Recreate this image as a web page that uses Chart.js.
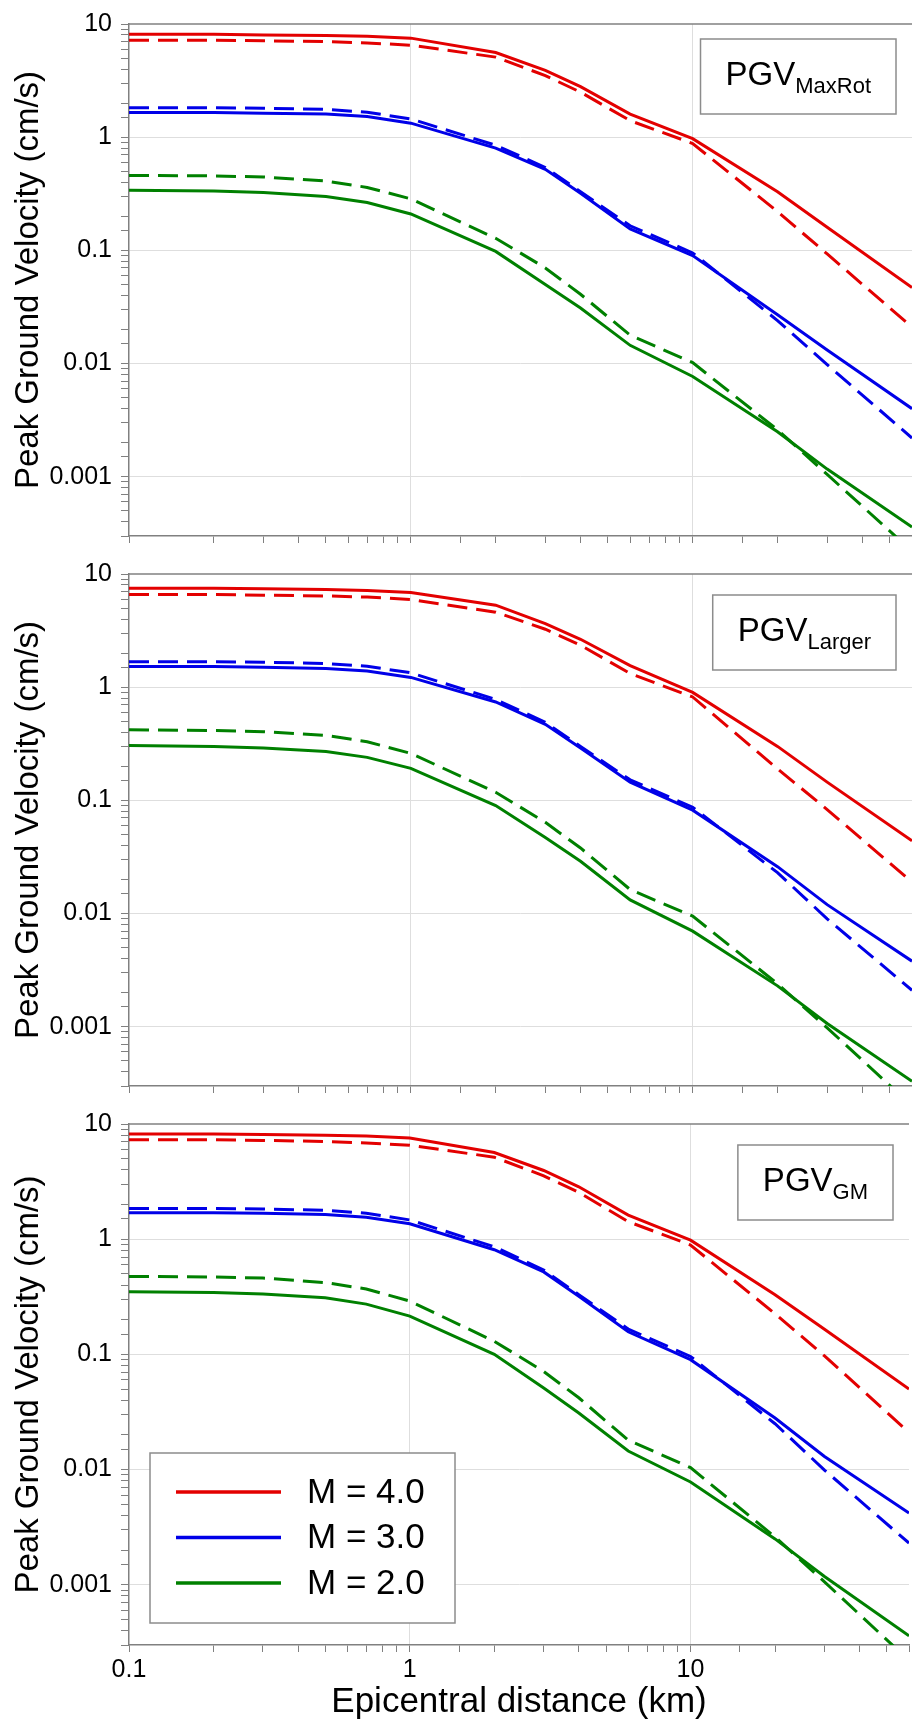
<!DOCTYPE html>
<html>
<head>
<meta charset="utf-8">
<script src="https://cdn.jsdelivr.net/npm/chart.js@4.4.1/dist/chart.umd.min.js"></script>
<style>
  body { margin: 0; background: #fff; }
  #wrap { position: relative; width: 912px; height: 1724px; overflow: hidden; }
  canvas { position: absolute; left: 0; }
</style>
</head>
<body>
<div id="wrap">
  <canvas id="maxRot" width="912" height="560" style="top:0px"></canvas>
  <canvas id="larger" width="912" height="560" style="top:550px"></canvas>
  <canvas id="gm" width="912" height="624" style="top:1100px"></canvas>
</div>
<script>
// epicentral distance (km) where the curves were read
const distanceKm = [0.1, 0.2, 0.3, 0.5, 0.7, 1, 2, 3, 4, 6, 10, 20, 30, 60];
const magnitudes = ['M = 4.0', 'M = 3.0', 'M = 2.0'];
const xTickLabels = ['0.1', '1', '10'];
const yTickLabels = ['10', '1', '0.1', '0.01', '0.001'];

// PGV MaxRot (cm/s)
const maxRotM4 = [8.1, 8.1, 8.0, 7.9, 7.8, 7.5, 5.6, 3.9, 2.8, 1.6, 0.97, 0.33, 0.16, 0.047];
const maxRotM4Dash = [7.2, 7.2, 7.1, 7.0, 6.8, 6.5, 5.1, 3.5, 2.5, 1.4, 0.88, 0.22, 0.093, 0.021];
const maxRotM3 = [1.65, 1.65, 1.63, 1.6, 1.52, 1.33, 0.8, 0.52, 0.32, 0.155, 0.09, 0.027, 0.0132, 0.004];
const maxRotM3Dash = [1.82, 1.82, 1.8, 1.76, 1.66, 1.45, 0.85, 0.54, 0.33, 0.165, 0.095, 0.024, 0.0098, 0.0022];
const maxRotM2 = [0.34, 0.335, 0.325, 0.3, 0.265, 0.21, 0.098, 0.05, 0.031, 0.0145, 0.0077, 0.0025, 0.00117, 0.00036];
const maxRotM2Dash = [0.46, 0.455, 0.445, 0.41, 0.36, 0.285, 0.128, 0.07, 0.041, 0.0178, 0.0102, 0.0026, 0.00105, 0.00022];

// PGV Larger (cm/s)
const largerM4 = [7.5, 7.5, 7.4, 7.3, 7.15, 6.85, 5.3, 3.65, 2.65, 1.55, 0.9, 0.3, 0.145, 0.044];
const largerM4Dash = [6.6, 6.6, 6.5, 6.4, 6.25, 5.95, 4.6, 3.25, 2.35, 1.32, 0.82, 0.19, 0.083, 0.019];
const largerM3 = [1.52, 1.52, 1.5, 1.46, 1.39, 1.22, 0.74, 0.47, 0.29, 0.145, 0.082, 0.026, 0.012, 0.0038];
const largerM3Dash = [1.68, 1.68, 1.66, 1.62, 1.53, 1.34, 0.78, 0.49, 0.3, 0.152, 0.087, 0.023, 0.009, 0.0021];
const largerM2 = [0.305, 0.3, 0.29, 0.27, 0.24, 0.192, 0.09, 0.047, 0.029, 0.0132, 0.007, 0.0023, 0.00107, 0.00033];
const largerM2Dash = [0.42, 0.415, 0.405, 0.375, 0.33, 0.26, 0.118, 0.064, 0.038, 0.0163, 0.0095, 0.0024, 0.00098, 0.0002];

// PGV GM (cm/s)
const gmM4 = [8.2, 8.2, 8.1, 8.0, 7.85, 7.55, 5.65, 3.95, 2.85, 1.62, 0.98, 0.33, 0.165, 0.05];
const gmM4Dash = [7.3, 7.3, 7.2, 7.05, 6.85, 6.55, 5.15, 3.55, 2.55, 1.42, 0.89, 0.225, 0.097, 0.021];
const gmM3 = [1.7, 1.7, 1.68, 1.64, 1.55, 1.36, 0.81, 0.52, 0.32, 0.157, 0.09, 0.028, 0.013, 0.0042];
const gmM3Dash = [1.85, 1.85, 1.83, 1.78, 1.68, 1.47, 0.86, 0.54, 0.33, 0.166, 0.096, 0.025, 0.0099, 0.0023];
const gmM2 = [0.35, 0.345, 0.335, 0.31, 0.273, 0.215, 0.1, 0.051, 0.031, 0.0145, 0.0078, 0.0025, 0.00118, 0.00036];
const gmM2Dash = [0.475, 0.47, 0.46, 0.42, 0.37, 0.29, 0.13, 0.071, 0.042, 0.018, 0.0104, 0.0026, 0.00106, 0.00022];

const lineColors = ['#e30000', '#0000e8', '#008000'];
const FONT = '"Liberation Sans", Arial, sans-serif';

function isDecade(v) {
    const l = Math.log10(v);
    return Math.abs(l - Math.round(l)) < 1e-6;
}

function buildDatasets(solid, dashed) {
    const datasets = [];
    solid.forEach((vals, i) => {
        datasets.push({
            label: magnitudes[i],
            data: distanceKm.map((x, j) => ({ x: x, y: vals[j] })),
            borderColor: lineColors[i],
            borderWidth: 3,
            pointRadius: 0,
            fill: false
        });
        datasets.push({
            label: magnitudes[i] + ' (dashed)',
            data: distanceKm.map((x, j) => ({ x: x, y: dashed[i][j] })),
            borderColor: lineColors[i],
            borderWidth: 3,
            borderDash: [20, 9],
            pointRadius: 0,
            fill: false
        });
    });
    return datasets;
}

function buildScales(showX) {
    return {
        x: {
            type: 'logarithmic',
            min: 0.1,
            max: 60,
            border: { color: '#808080', width: 1.5 },
            grid: {
                color: (c) => (c.tick && isDecade(c.tick.value) && c.tick.value > 0.1) ? '#dedede' : 'rgba(0,0,0,0)',
                tickColor: '#808080',
                tickLength: 7
            },
            ticks: {
                display: showX,
                autoSkip: false,
                maxRotation: 0,
                padding: 3,
                color: '#000',
                font: { family: FONT, size: 25 },
                callback: (v) => xTickLabels.includes(String(v)) ? String(v) : ''
            },
            title: {
                display: showX,
                text: 'Epicentral distance (km)',
                color: '#000',
                font: { family: FONT, size: 35 },
                padding: { top: 0, bottom: 1 }
            },
            afterFit: (s) => { s.height = showX ? 79 : 15; }
        },
        y: {
            type: 'logarithmic',
            min: 0.0003,
            max: 10,
            border: { color: '#808080', width: 1.5 },
            grid: {
                color: (c) => (c.tick && isDecade(c.tick.value) && c.tick.value < 10) ? '#dedede' : 'rgba(0,0,0,0)',
                tickColor: '#808080',
                tickLength: 8
            },
            ticks: {
                autoSkip: false,
                padding: 9,
                color: '#000',
                font: { family: FONT, size: 25 },
                callback: (v) => yTickLabels.includes(String(v)) ? String(v) : ''
            },
            title: {
                display: true,
                text: 'Peak Ground Velocity (cm/s)',
                color: '#000',
                font: { family: FONT, size: 33 },
                padding: { top: 9, bottom: 0 }
            },
            afterFit: (s) => { s.width = 129; }
        }
    };
}

// top edge of the frame
const topFrame = {
    id: 'topFrame',
    afterDatasetsDraw(chart) {
        const { ctx, chartArea } = chart;
        ctx.save();
        ctx.strokeStyle = '#808080';
        ctx.lineWidth = 1.5;
        ctx.beginPath();
        ctx.moveTo(chartArea.left, chartArea.top);
        ctx.lineTo(chartArea.right, chartArea.top);
        ctx.stroke();
        ctx.restore();
    }
};

// "PGV" box with a subscript
function tagPlugin(main, sub, topOffset) {
    return {
        id: 'tag',
        afterDraw(chart) {
            const { ctx, chartArea } = chart;
            ctx.save();
            ctx.font = '33px ' + FONT;
            const wMain = ctx.measureText(main).width;
            ctx.font = '22px ' + FONT;
            const wSub = ctx.measureText(sub).width;
            const padX = 25, h = 75;
            const w = wMain + wSub + 2 * padX;
            const left = chartArea.right - 16 - w;
            const top = chartArea.top + topOffset;
            ctx.fillStyle = '#fff';
            ctx.fillRect(left, top, w, h);
            ctx.strokeStyle = '#8c8c8c';
            ctx.lineWidth = 1.5;
            ctx.strokeRect(left, top, w, h);
            ctx.fillStyle = '#000';
            ctx.textBaseline = 'alphabetic';
            ctx.font = '33px ' + FONT;
            ctx.fillText(main, left + padX, top + 46);
            ctx.font = '22px ' + FONT;
            ctx.fillText(sub, left + padX + wMain, top + 54);
            ctx.restore();
        }
    };
}

// magnitude legend drawn inside the bottom panel
const magLegend = {
    id: 'magLegend',
    afterDraw(chart) {
        const { ctx, chartArea } = chart;
        const left = chartArea.left + 21;
        const top = chartArea.bottom - 192;
        ctx.save();
        ctx.fillStyle = '#fff';
        ctx.fillRect(left, top, 305, 170);
        ctx.strokeStyle = '#8c8c8c';
        ctx.lineWidth = 1.5;
        ctx.strokeRect(left, top, 305, 170);
        ctx.font = '35px ' + FONT;
        ctx.textBaseline = 'middle';
        magnitudes.forEach((label, i) => {
            const y = top + 39 + i * 45.5;
            ctx.strokeStyle = lineColors[i];
            ctx.lineWidth = 3.5;
            ctx.beginPath();
            ctx.moveTo(left + 26, y);
            ctx.lineTo(left + 131, y);
            ctx.stroke();
            ctx.fillStyle = '#000';
            ctx.fillText(label, left + 157, y + 1);
        });
        ctx.restore();
    }
};

function makeChart(id, solid, dashed, sub, tagTop, isBottom) {
    const plugins = [topFrame, tagPlugin('PGV', sub, tagTop)];
    if (isBottom) plugins.push(magLegend);
    return new Chart(document.getElementById(id).getContext('2d'), {
        type: 'line',
        data: { datasets: buildDatasets(solid, dashed) },
        options: {
            responsive: false,
            animation: false,
            layout: { padding: { top: 21, right: 0, bottom: 0, left: 0 } },
            plugins: { legend: { display: false }, tooltip: { enabled: false } },
            scales: buildScales(isBottom)
        },
        plugins: plugins
    });
}

makeChart('maxRot', [maxRotM4, maxRotM3, maxRotM2], [maxRotM4Dash, maxRotM3Dash, maxRotM2Dash], 'MaxRot', 15, false);
makeChart('larger', [largerM4, largerM3, largerM2], [largerM4Dash, largerM3Dash, largerM2Dash], 'Larger', 21, false);
makeChart('gm', [gmM4, gmM3, gmM2], [gmM4Dash, gmM3Dash, gmM2Dash], 'GM', 21, true);
</script>
</body>
</html>
